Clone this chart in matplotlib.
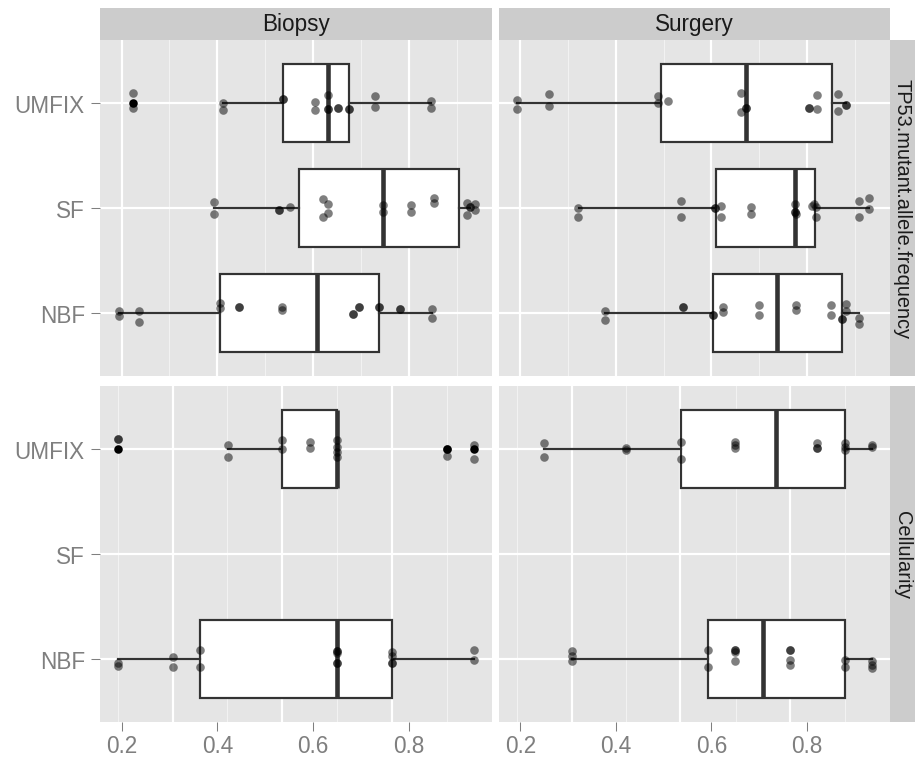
import matplotlib
matplotlib.use("Agg")
import matplotlib.pyplot as plt
import numpy as np

plt.rcParams['font.family'] = ['Liberation Sans', 'DejaVu Sans']

# ---------------- data ----------------
fixatives = ["NBF", "SF", "UMFIX"]          # bottom -> top
sites = ["Biopsy", "Surgery"]
measures = ["TP53.mutant.allele.frequency", "Cellularity"]
x_ticks = [0.2, 0.4, 0.6, 0.8]
x_tick_labels = ["0.2", "0.4", "0.6", "0.8"]

# box statistics per group (measure, site, fixative)
box_groups = [
    ("TP53.mutant.allele.frequency", "Biopsy", "UMFIX"),
    ("TP53.mutant.allele.frequency", "Biopsy", "SF"),
    ("TP53.mutant.allele.frequency", "Biopsy", "NBF"),
    ("TP53.mutant.allele.frequency", "Surgery", "UMFIX"),
    ("TP53.mutant.allele.frequency", "Surgery", "SF"),
    ("TP53.mutant.allele.frequency", "Surgery", "NBF"),
    ("Cellularity", "Biopsy", "UMFIX"),
    ("Cellularity", "Biopsy", "NBF"),
    ("Cellularity", "Surgery", "UMFIX"),
    ("Cellularity", "Surgery", "NBF"),
]
box_q1 = [0.538, 0.570, 0.406, 0.494, 0.610, 0.604, 0.536, 0.364, 0.536, 0.593]
box_med = [0.6315, 0.747, 0.609, 0.673, 0.774, 0.738, 0.650, 0.650, 0.736, 0.708]
box_q3 = [0.675, 0.906, 0.738, 0.853, 0.817, 0.874, 0.650, 0.765, 0.880, 0.880]
box_whislo = [0.4125, 0.393, 0.194, 0.193, 0.322, 0.378, 0.422, 0.193, 0.250, 0.307]
box_whishi = [0.846, 0.929, 0.848, 0.881, 0.929, 0.909, 0.650, 0.936, 0.936, 0.936]
box_fliers = [[0.223], [], [], [], [], [], [0.193, 0.879, 0.936], [], [], []]

# jittered observations: value and vertical jitter (category units, + = up)
tp53_biopsy_umfix_x = [0.223, 0.223, 0.4125, 0.4125, 0.538, 0.538, 0.604, 0.604, 0.6315, 0.6315, 0.6315,
                       0.652, 0.652, 0.675, 0.675, 0.7305, 0.7305, 0.846, 0.846]
tp53_biopsy_umfix_dy = [0.092, -0.051, 0.0, -0.067, 0.035, 0.035, 0.006, -0.067, 0.079, -0.057, -0.057,
                        -0.051, -0.051, -0.057, -0.057, 0.070, -0.041, 0.016, -0.051]
tp53_biopsy_sf_x = [0.393, 0.393, 0.528, 0.528, 0.551, 0.621, 0.621, 0.6315, 0.6315, 0.747, 0.747,
                    0.805, 0.805, 0.853, 0.853, 0.922, 0.922, 0.927, 0.927, 0.938, 0.938]
tp53_biopsy_sf_dy = [0.054, -0.054, -0.016, -0.016, 0.006, 0.086, -0.089, 0.038, -0.048, 0.029, -0.035,
                     0.032, -0.035, 0.098, 0.048, 0.048, -0.067, 0.006, 0.006, 0.038, -0.019]
tp53_biopsy_nbf_x = [0.194, 0.194, 0.236, 0.236, 0.406, 0.406, 0.446, 0.446, 0.535, 0.535, 0.683, 0.683,
                     0.697, 0.697, 0.738, 0.738, 0.781, 0.781, 0.848, 0.848]
tp53_biopsy_nbf_dy = [0.016, -0.025, 0.016, -0.089, 0.095, 0.044, 0.060, 0.060, 0.054, 0.032, -0.010, -0.010,
                      0.057, 0.057, 0.054, 0.054, 0.035, 0.035, 0.038, -0.048]
tp53_surgery_umfix_x = [0.192, 0.192, 0.260, 0.260, 0.489, 0.489, 0.509, 0.661, 0.661, 0.672, 0.672,
                        0.805, 0.805, 0.821, 0.821, 0.865, 0.865, 0.881, 0.881]
tp53_surgery_umfix_dy = [0.032, -0.057, 0.089, -0.025, 0.063, 0.0, 0.022, 0.092, -0.089, -0.048, -0.048,
                         -0.048, -0.048, 0.076, -0.057, 0.086, -0.073, -0.016, -0.016]
tp53_surgery_sf_x = [0.321, 0.321, 0.536, 0.536, 0.607, 0.607, 0.621, 0.621, 0.682, 0.682, 0.776, 0.776,
                     0.776, 0.778, 0.810, 0.814, 0.818, 0.818, 0.909, 0.909, 0.930, 0.930]
tp53_surgery_sf_dy = [0.0, -0.089, 0.070, -0.089, 0.0, 0.0, 0.016, -0.083, 0.006, -0.057, 0.041, -0.035,
                      -0.035, -0.057, 0.022, 0.038, 0.006, -0.089, 0.063, -0.089, 0.092, -0.010]
tp53_surgery_nbf_x = [0.377, 0.377, 0.541, 0.541, 0.604, 0.604, 0.625, 0.625, 0.700, 0.700, 0.777, 0.777,
                      0.851, 0.851, 0.881, 0.881, 0.874, 0.874, 0.909, 0.909]
tp53_surgery_nbf_dy = [0.022, -0.063, 0.054, 0.054, -0.016, -0.016, 0.054, 0.010, 0.079, -0.016, 0.079, 0.025,
                       0.079, -0.016, 0.086, 0.016, -0.054, -0.054, -0.048, -0.105]
cell_biopsy_umfix_x = [0.193, 0.193, 0.422, 0.422, 0.536, 0.536, 0.593, 0.593, 0.650, 0.650, 0.650, 0.650,
                       0.879, 0.879, 0.936, 0.936]
cell_biopsy_umfix_dy = [0.092, 0.092, 0.038, -0.073, 0.086, 0.0, 0.070, 0.006, 0.086, 0.022, -0.025, -0.073,
                        0.0, -0.063, 0.038, -0.095]
cell_biopsy_nbf_x = [0.193, 0.193, 0.307, 0.307, 0.364, 0.364, 0.650, 0.650, 0.650, 0.650, 0.650,
                     0.765, 0.765, 0.765, 0.765, 0.936, 0.936]
cell_biopsy_nbf_dy = [-0.038, -0.070, 0.016, -0.073, 0.089, -0.073, 0.079, 0.079, 0.057, -0.038, -0.038,
                      0.063, 0.032, -0.038, -0.038, 0.089, -0.013]
cell_surgery_umfix_x = [0.250, 0.250, 0.422, 0.422, 0.536, 0.536, 0.650, 0.650, 0.650, 0.822, 0.822, 0.822,
                        0.880, 0.880, 0.880, 0.936, 0.936]
cell_surgery_umfix_dy = [0.060, -0.079, 0.013, -0.010, 0.063, -0.098, 0.070, 0.038, 0.006, 0.060, 0.006, 0.006,
                         0.060, 0.022, -0.010, 0.038, 0.016]
cell_surgery_nbf_x = [0.307, 0.307, 0.307, 0.593, 0.593, 0.650, 0.650, 0.650, 0.650, 0.764, 0.764, 0.764,
                      0.764, 0.880, 0.880, 0.936, 0.936, 0.936]
cell_surgery_nbf_dy = [0.079, 0.025, -0.022, 0.089, -0.073, 0.089, 0.089, 0.067, -0.016, 0.089, 0.089, -0.006,
                       -0.060, -0.006, -0.079, -0.022, -0.054, -0.086]

points = {
    ("TP53.mutant.allele.frequency", "Biopsy", "UMFIX"): (tp53_biopsy_umfix_x, tp53_biopsy_umfix_dy),
    ("TP53.mutant.allele.frequency", "Biopsy", "SF"): (tp53_biopsy_sf_x, tp53_biopsy_sf_dy),
    ("TP53.mutant.allele.frequency", "Biopsy", "NBF"): (tp53_biopsy_nbf_x, tp53_biopsy_nbf_dy),
    ("TP53.mutant.allele.frequency", "Surgery", "UMFIX"): (tp53_surgery_umfix_x, tp53_surgery_umfix_dy),
    ("TP53.mutant.allele.frequency", "Surgery", "SF"): (tp53_surgery_sf_x, tp53_surgery_sf_dy),
    ("TP53.mutant.allele.frequency", "Surgery", "NBF"): (tp53_surgery_nbf_x, tp53_surgery_nbf_dy),
    ("Cellularity", "Biopsy", "UMFIX"): (cell_biopsy_umfix_x, cell_biopsy_umfix_dy),
    ("Cellularity", "Biopsy", "NBF"): (cell_biopsy_nbf_x, cell_biopsy_nbf_dy),
    ("Cellularity", "Surgery", "UMFIX"): (cell_surgery_umfix_x, cell_surgery_umfix_dy),
    ("Cellularity", "Surgery", "NBF"): (cell_surgery_nbf_x, cell_surgery_nbf_dy),
}

# gridlines drawn in the Cellularity row (they follow that row's own scale)
cell_grid_major = [0.307, 0.535, 0.765]
cell_grid_minor = [0.193, 0.421, 0.651, 0.880]
top_grid_minor = [0.3, 0.5, 0.7, 0.9]

# ---------------- layout ----------------
W, H = 915, 759
fig = plt.figure(figsize=(W / 150, H / 150), dpi=150)
fig.patch.set_facecolor("white")

col_x = [(100, 392), (499, 391)]
row_y = [(41, 336), (387, 336)]

PANEL_BG = "#E5E5E5"
STRIP_BG = "#CCCCCC"
BOX_EDGE = "#333333"
TEXT_GREY = "#7F7F7F"
FS = 10.8
FS_STRIP_Y = 9.6
xlim = (0.155, 0.974)
ylim = (0.4, 3.6)

def fig_rect(x, y, w, h):
    return [x / W, (H - y - h) / H, w / W, h / H]

for r, measure in enumerate(measures):
    for c, site in enumerate(sites):
        x0, w = col_x[c]
        y0, h = row_y[r]
        ax = fig.add_axes(fig_rect(x0, y0, w, h))
        ax.set_facecolor(PANEL_BG)
        for s in ax.spines.values():
            s.set_visible(False)
        ax.set_xlim(*xlim)
        ax.set_ylim(*ylim)

        # grid
        if r == 0:
            vmin, vmaj = top_grid_minor, x_ticks
        else:
            vmin, vmaj = cell_grid_minor, cell_grid_major
        for v in vmin:
            ax.axvline(v, color="#F2F2F2", lw=0.55, zorder=0.5)
        for v in vmaj:
            ax.axvline(v, color="white", lw=1.05, zorder=0.6)
        for yy in range(1, len(fixatives) + 1):
            ax.axhline(yy, color="white", lw=1.05, zorder=0.6)

        # boxes
        stats, pos = [], []
        for i, g in enumerate(box_groups):
            if g[0] == measure and g[1] == site:
                stats.append(dict(q1=box_q1[i], med=box_med[i], q3=box_q3[i],
                                  whislo=box_whislo[i], whishi=box_whishi[i],
                                  fliers=box_fliers[i]))
                pos.append(fixatives.index(g[2]) + 1)
        kw = dict(positions=pos, widths=0.75, patch_artist=True, showcaps=False,
                  boxprops=dict(facecolor="white", edgecolor=BOX_EDGE, linewidth=1.05),
                  medianprops=dict(color=BOX_EDGE, linewidth=2.2, solid_capstyle="butt"),
                  whiskerprops=dict(color=BOX_EDGE, linewidth=1.05),
                  flierprops=dict(marker="o", markerfacecolor="black", markeredgewidth=0,
                                  markersize=4.1),
                  manage_ticks=False, zorder=2)
        try:
            ax.bxp(stats, orientation="horizontal", **kw)
        except TypeError:
            ax.bxp(stats, vert=False, **kw)

        # jittered points
        for fx in fixatives:
            key = (measure, site, fx)
            if key in points:
                xs, dys = points[key]
                ys = np.full(len(xs), fixatives.index(fx) + 1) + np.array(dys)
                ax.scatter(xs, ys, s=17, c="black", alpha=0.5, linewidths=0, zorder=3)

        # ticks
        ax.set_xticks(x_ticks)
        ax.set_yticks(range(1, len(fixatives) + 1))
        if r == len(measures) - 1:
            ax.set_xticklabels(x_tick_labels)
            ax.tick_params(axis="x", length=4.3, width=0.5, color=TEXT_GREY,
                           labelcolor=TEXT_GREY, labelsize=FS, pad=1.5)
        else:
            ax.tick_params(axis="x", length=0, labelbottom=False)
        if c == 0:
            ax.set_yticklabels(fixatives)
            ax.tick_params(axis="y", length=4.3, width=0.5, color=TEXT_GREY,
                           labelcolor=TEXT_GREY, labelsize=FS, pad=3.0)
        else:
            ax.tick_params(axis="y", length=0, labelleft=False)

        # strips
        if r == 0:
            sax = fig.add_axes(fig_rect(x0, 9, w, 32))
            sax.set_facecolor(STRIP_BG)
            sax.set_xticks([]); sax.set_yticks([])
            for s in sax.spines.values():
                s.set_visible(False)
            sax.text(0.5, 0.5, site, ha="center", va="center", fontsize=FS,
                     color="#1A1A1A", transform=sax.transAxes)
        if c == len(sites) - 1:
            sax = fig.add_axes(fig_rect(890, y0, 25, h))
            sax.set_facecolor(STRIP_BG)
            sax.set_xticks([]); sax.set_yticks([])
            for s in sax.spines.values():
                s.set_visible(False)
            sax.text(0.48, 0.5, measure, ha="center", va="center", fontsize=FS_STRIP_Y,
                     color="#1A1A1A", rotation=-90, transform=sax.transAxes)

fig.savefig("out.png", dpi=150)
